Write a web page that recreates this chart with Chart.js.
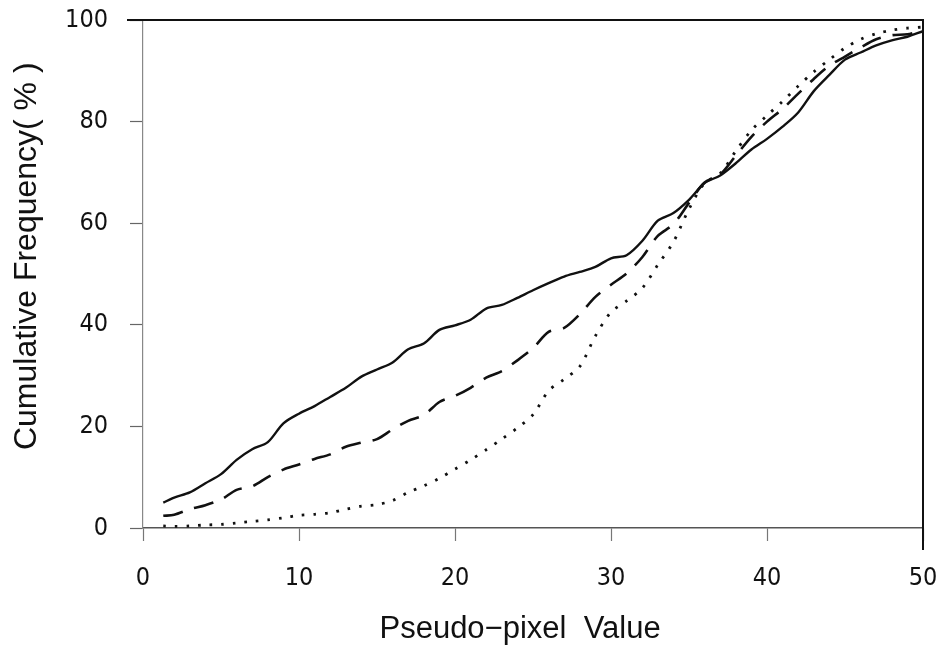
<!DOCTYPE html>
<html>
<head>
<meta charset="utf-8">
<script src="https://cdn.jsdelivr.net/npm/chart.js@4.4.1/dist/chart.umd.min.js"></script>
<style>
  html, body { margin: 0; padding: 0; background: #fff; }
  #wrap { width: 940px; height: 649px; }
</style>
</head>
<body>
<div id="wrap"><canvas id="chart1"></canvas></div>
<script>
// pseudo-pixel values (x)
const xValues = [1.3, 2, 3, 4, 5, 6, 7, 8, 9, 10, 11, 12, 13, 14, 15, 16, 17, 18, 19, 20,
  21, 22, 23, 24, 25, 26, 27, 28, 29, 30, 31, 32, 33, 34, 35, 36, 37, 38, 39, 40,
  41, 42, 43, 44, 45, 46, 47, 48, 49, 50];

// cumulative frequency (%) for the three curves
const solidValues = [5.0, 6.0, 7.0, 8.8, 10.6, 13.4, 15.5, 16.9, 20.6, 22.5, 24.0, 25.8, 27.6, 29.8, 31.2, 32.6, 35.2, 36.3, 39.0, 39.9,
  41.0, 43.2, 43.9, 45.3, 46.8, 48.2, 49.5, 50.4, 51.4, 53.1, 53.7, 56.5, 60.5, 62.0, 64.6, 67.9, 69.4, 71.8, 74.5, 76.6,
  79.0, 81.8, 86.0, 89.2, 92.2, 93.6, 95.0, 96.0, 96.7, 97.8];
const dashedValues = [2.4, 2.6, 3.7, 4.5, 5.6, 7.5, 8.2, 10.0, 11.5, 12.5, 13.6, 14.5, 16.0, 16.8, 17.5, 19.4, 21.1, 22.2, 24.8, 26.0,
  27.6, 29.6, 30.9, 33.0, 35.4, 38.6, 39.4, 42.1, 45.5, 47.9, 50.1, 53.3, 57.5, 59.8, 64.0, 68.0, 69.6, 73.3, 77.0, 80.0,
  82.5, 85.5, 88.4, 91.0, 92.8, 94.6, 96.2, 97.0, 97.2, 98.0];
const dottedValues = [0.4, 0.3, 0.4, 0.6, 0.7, 1.0, 1.3, 1.6, 2.0, 2.5, 2.7, 3.0, 3.7, 4.3, 4.6, 5.4, 7.0, 8.3, 9.8, 11.6,
  13.4, 15.4, 17.5, 19.7, 22.3, 27.0, 29.3, 31.8, 37.8, 42.5, 44.7, 47.2, 51.8, 56.3, 62.8, 67.9, 69.8, 74.2, 78.3, 81.2,
  84.0, 87.0, 89.8, 92.2, 94.5, 96.2, 97.3, 98.0, 98.4, 98.6];

const xTicks = [0, 10, 20, 30, 40, 50];
const yTicks = [0, 20, 40, 60, 80, 100];

const tickFont = { family: '"Liberation Sans Narrow", "DejaVu Sans Condensed", "Liberation Sans", sans-serif', size: 25 };
const titleFont = { family: '"Liberation Sans", Arial, sans-serif', size: 31 };

function toPoints(values) {
  return xValues.map((x, i) => ({ x: x, y: values[i] }));
}

function lineSet(values, dash, width) {
  return {
    data: toPoints(values),
    borderColor: '#111',
    borderWidth: width,
    borderDash: dash,
    pointRadius: 0,
    tension: 0.3,
    fill: false
  };
}

// top and right edges of the frame
const frame = {
  id: 'frame',
  afterDraw(chart) {
    const a = chart.chartArea;
    const c = chart.ctx;
    c.save();
    c.strokeStyle = '#111';
    c.lineWidth = 2;
    c.beginPath();
    c.moveTo(a.left - 16, a.top);
    c.lineTo(a.right, a.top);
    c.lineTo(a.right, a.bottom + 22);
    c.stroke();
    c.restore();
  }
};

const ctx = document.getElementById('chart1').getContext('2d');
const chart = new Chart(ctx, {
  type: 'scatter',
  data: {
    datasets: [
      lineSet(solidValues, [], 2.4),
      lineSet(dashedValues, [20, 12], 2.6),
      lineSet(dottedValues, [2.6, 9], 2.8)
    ]
  },
  plugins: [frame],
  options: {
    responsive: true,
    maintainAspectRatio: false,
    animation: false,
    showLine: true,
    layout: { padding: { top: 20, right: 17, bottom: 0, left: 0 } },
    plugins: { legend: { display: false }, tooltip: { enabled: false } },
    scales: {
      x: {
        type: 'linear',
        min: 0,
        max: 50,
        afterBuildTicks: axis => { axis.ticks = xTicks.map(v => ({ value: v })); },
        afterFit: axis => { axis.height = 121; axis.paddingLeft = 0; axis.paddingRight = 0; },
        border: { display: true, color: '#555', width: 1.5 },
        grid: { drawOnChartArea: false, drawTicks: true, tickLength: 13, tickColor: '#777', tickWidth: 1.2 },
        ticks: { color: '#111', font: tickFont, padding: 22, maxRotation: 0 },
        title: { display: true, text: 'Pseudo\u2212pixel  Value   ', color: '#111', font: titleFont, padding: { top: 0, bottom: 1 } }
      },
      y: {
        type: 'linear',
        min: 0,
        max: 100,
        afterBuildTicks: axis => { axis.ticks = yTicks.map(v => ({ value: v })); },
        afterFit: axis => { axis.width = 143; axis.paddingTop = 0; axis.paddingBottom = 0; },
        border: { display: true, color: '#888', width: 1.2, dash: [2, 2] },
        grid: { drawOnChartArea: false, drawTicks: true, tickLength: 13, tickColor: '#666', tickWidth: 1.2 },
        ticks: { color: '#111', font: tickFont, padding: 22 },
        title: { display: true, text: '    Cumulative Frequency( % )', color: '#111', font: { family: titleFont.family, size: 32 }, padding: { top: 8, bottom: 0 } }
      }
    }
  }
});
</script>
</body>
</html>
